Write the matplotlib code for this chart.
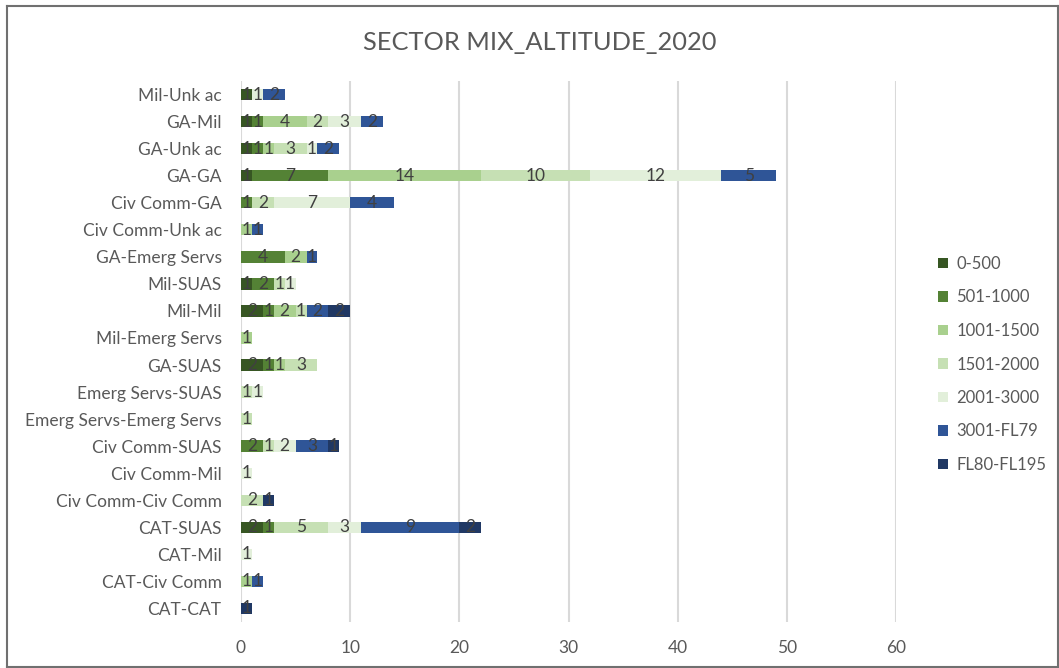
import matplotlib.pyplot as plt
from matplotlib.lines import Line2D
import numpy as np

plt.rcParams['font.family'] = ['Lato', 'DejaVu Sans']

# sector pairs, bottom to top
sectors = ['CAT-CAT', 'CAT-Civ Comm', 'CAT-Mil', 'CAT-SUAS', 'Civ Comm-Civ Comm',
           'Civ Comm-Mil', 'Civ Comm-SUAS', 'Emerg Servs-Emerg Servs', 'Emerg Servs-SUAS',
           'GA-SUAS', 'Mil-Emerg Servs', 'Mil-Mil', 'Mil-SUAS', 'GA-Emerg Servs',
           'Civ Comm-Unk ac', 'Civ Comm-GA', 'GA-GA', 'GA-Unk ac', 'GA-Mil', 'Mil-Unk ac']

bands = ['0-500', '501-1000', '1001-1500', '1501-2000', '2001-3000', '3001-FL79', 'FL80-FL195']
colors = ['#375623', '#548235', '#A9D08E', '#C6E0B4', '#E2EFDA', '#2F5597', '#203864']

a_0_500     = [0, 0, 0, 2, 0, 0, 0, 0, 0, 2, 0, 2, 1, 0, 0, 0, 1, 1, 1, 1]
a_501_1000  = [0, 0, 0, 1, 0, 0, 2, 0, 0, 1, 0, 1, 2, 4, 0, 1, 7, 1, 1, 0]
a_1001_1500 = [0, 1, 0, 0, 0, 0, 0, 0, 0, 1, 1, 2, 0, 2, 1, 0, 14, 1, 4, 0]
a_1501_2000 = [0, 0, 0, 5, 2, 0, 1, 1, 1, 3, 0, 1, 1, 0, 0, 2, 10, 3, 2, 0]
a_2001_3000 = [0, 0, 1, 3, 0, 1, 2, 0, 1, 0, 0, 0, 1, 0, 0, 7, 12, 1, 3, 1]
a_3001_fl79 = [0, 1, 0, 9, 0, 0, 3, 0, 0, 0, 0, 2, 0, 1, 1, 4, 5, 2, 2, 2]
a_fl80_195  = [1, 0, 0, 2, 1, 0, 1, 0, 0, 0, 0, 2, 0, 0, 0, 0, 0, 0, 0, 0]

series = [a_0_500, a_501_1000, a_1001_1500, a_1501_2000, a_2001_3000, a_3001_fl79, a_fl80_195]

fig = plt.figure(figsize=(10.59, 6.68), dpi=100)
ax = fig.add_axes([241 / 1059, 1 - 622 / 668, 655 / 1059, 541 / 668])

y = np.arange(len(sectors))
left = np.zeros(len(sectors))
for name, vals, c in zip(bands, series, colors):
    vals = np.array(vals, dtype=float)
    bars = ax.barh(y, vals, left=left, height=0.42, color=c, label=name, zorder=3)
    for b, v in zip(bars, vals):
        if v > 0:
            ax.text(b.get_x() + b.get_width() / 2, b.get_y() + b.get_height() / 2, f'{int(v)}',
                    ha='center', va='center', fontsize=12.5, color='#404040', zorder=4)
    left += vals

ax.set_xlim(0, 60)
ax.set_ylim(-0.5, len(sectors) - 0.5)
ax.set_xticks(range(0, 61, 10))
ax.set_yticks(y)
ax.set_yticklabels(sectors)
ax.tick_params(axis='both', length=0, labelsize=12.5, colors='#595959')
ax.tick_params(axis='x', pad=13)
ax.tick_params(axis='y', pad=14)
ax.grid(axis='x', color='#D9D9D9', linewidth=1.5, zorder=0)
for s in ax.spines.values():
    s.set_visible(False)

fig.text(540 / 1059, 1 - 42 / 668, 'SECTOR MIX_ALTITUDE_2020', ha='center', va='center',
         fontsize=18.3, color='#595959')

leg = fig.legend(loc='upper left', bbox_to_anchor=(938 / 1059, 1 - 256 / 668), frameon=False,
                 fontsize=12, labelcolor='#595959', handlelength=0.6, handleheight=0.6,
                 handletextpad=0.5, labelspacing=1.05, borderpad=0, borderaxespad=0)

# outer chart frame
for xs, ys in [([7, 7], [6, 667]), ([7, 1058], [6, 6]), ([7, 1058], [667, 667]), ([1058, 1058], [6, 667])]:
    fig.add_artist(Line2D([v / 1059 for v in xs], [1 - v / 668 for v in ys],
                          color='#707070', linewidth=1.5, transform=fig.transFigure))

fig.savefig('out.png', dpi=100)
